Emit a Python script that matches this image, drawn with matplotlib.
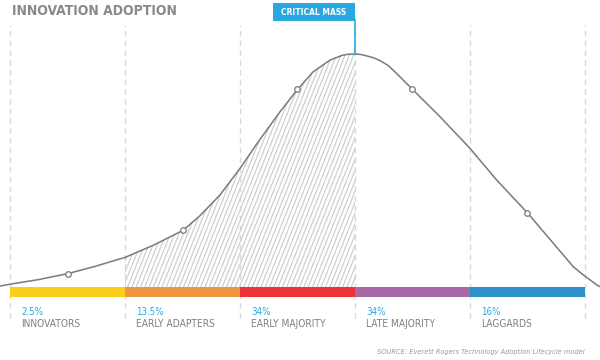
import numpy as np
import matplotlib
matplotlib.use("Agg")
import matplotlib.pyplot as plt

# adoption curve, x in segment units (boundaries at 0..5), y relative to peak = 100
curve_x = [-0.087, 0.0, 0.25, 0.5, 0.75, 1.0, 1.25, 1.504, 1.652, 1.826, 2.0,
           2.174, 2.348, 2.5, 2.637, 2.783, 2.887, 2.94, 3.0, 3.05, 3.1, 3.16,
           3.217, 3.29, 3.357, 3.5, 3.739, 4.0, 4.232, 4.5, 4.724, 4.898,
           4.985, 5.102, 5.13]
curve_y = [0.4, 1.2, 3.2, 5.7, 9.0, 12.7, 18.0, 24.3, 30.6, 39.5, 50.9,
           63.4, 75.2, 84.8, 92.4, 97.4, 99.4, 99.9, 100.0, 99.8, 99.2, 98.4,
           97.2, 95.0, 91.9, 84.8, 73.1, 59.5, 45.9, 31.8, 18.8, 8.7,
           5.2, 0.9, 0.2]

marker_x = [0.5, 1.504, 2.5, 3.5, 4.5]
marker_y = [5.7, 24.3, 84.8, 84.8, 31.8]

shares = ["2.5%", "13.5%", "34%", "34%", "16%"]
groups = ["INNOVATORS", "EARLY ADAPTERS", "EARLY MAJORITY", "LATE MAJORITY", "LAGGARDS"]
colors = ["#F9CF1C", "#F0963E", "#EE3338", "#A86AA6", "#2F8FC8"]

BLUE = "#29A8E0"
GRAY = "#7f7f7f"

plt.rcParams["font.family"] = ["DejaVu Sans"]
plt.rcParams["font.stretch"] = "condensed"

fig = plt.figure(figsize=(6, 3.6), dpi=100)
ax = fig.add_axes([0, 0, 1, 1])
ax.set_xlim(-10 / 115, 590 / 115)
ax.set_ylim(-73 / 2.33, 287 / 2.33)
ax.axis("off")

# dashed segment boundaries
ax.vlines(range(6), -13.3, 112.4, colors="#d9d9d9", linewidth=1,
          linestyles=(0, (4, 3)), zorder=1)

# hatched area between innovators and critical mass
cx = np.array(curve_x)
cy = np.array(curve_y)
sel = (cx >= 1.0) & (cx <= 3.0)
poly = ax.fill_between(cx[sel], cy[sel], 0, facecolor="none", edgecolor="none")
clip = poly.get_paths()[0]
for x0 in np.arange(0.2, 3.05, 0.0374):
    ln, = ax.plot([x0, x0 + 0.81], [0, 100], color="#cfcfcf", lw=0.9, zorder=2)
    ln.set_clip_path(clip, ax.transData)

# curve and markers
ax.plot(curve_x, curve_y, color="#7a7a7a", lw=1.1, zorder=3)
ax.plot(marker_x, marker_y, "o", ms=4, mfc="white", mec="#7a7a7a", mew=0.9, zorder=4)

# coloured segment bar
ax.bar(np.arange(5) + 0.5, 4.3, width=1, bottom=-4.3, color=colors, zorder=3)

for i in range(5):
    ax.text(i + 0.096, -10.7, shares[i], color=BLUE, fontsize=7,
            ha="left", va="center")
    ax.text(i + 0.096, -15.9, groups[i], color=GRAY, fontsize=7.3,
            ha="left", va="center")

# critical mass flag
ax.plot([3, 3], [100, 114.5], color=BLUE, lw=1.2, zorder=3)
ax.fill_between([2.287, 3.0], 114.2, 121.9, color=BLUE, lw=0, zorder=3)
ax.text(2.6435, 118.0, "CRITICAL MASS", color="white", fontsize=6,
        fontweight="bold", ha="center", va="center", zorder=4)

ax.text(2 / 115, 118.5, "INNOVATION ADOPTION", color="#8a8a8a",
        fontsize=10, fontweight="bold", ha="left", va="center")
ax.text(5.0, -27.9, "SOURCE: Everett Rogers Technology Adoption Lifecycle model",
        color="#9a9a9a", fontsize=5.3, style="italic", ha="right", va="center")

fig.savefig("out.png", dpi=100)
